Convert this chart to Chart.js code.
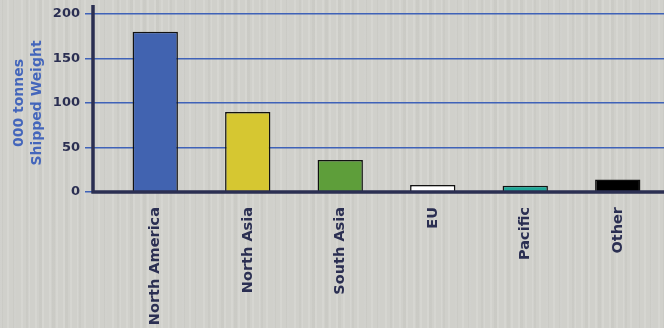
<!DOCTYPE html>
<html>
<head>
<meta charset="utf-8">
<script src="https://cdn.jsdelivr.net/npm/chart.js@4/dist/chart.umd.min.js"></script>
<style>
    body {
        margin: 0;
        background-color: #d0d0cb;
        background-image:
            repeating-linear-gradient(90deg, rgba(255,255,255,0.12) 0px, rgba(255,255,255,0.12) 2px, rgba(0,0,0,0) 2px, rgba(0,0,0,0) 7px),
            repeating-linear-gradient(90deg, rgba(120,120,110,0.06) 0px, rgba(120,120,110,0.06) 3px, rgba(0,0,0,0) 3px, rgba(0,0,0,0) 13px);
    }
    .wrap {
        width: 664px;
        height: 328px;
        position: relative;
    }
</style>
</head>
<body>
<div class="wrap"><canvas id="weightChart"></canvas></div>
<script>
const regions = ['North America', 'North Asia', 'South Asia', 'EU', 'Pacific', 'Other'];
const shippedWeight = [180, 90, 36, 8, 7, 14];
const barColors = ['#4163b0', '#d6c731', '#5e9e3a', '#ffffff', '#1ea898', '#000000'];
const yTicks = [0, 50, 100, 150, 200];
const yTitle = ['000 tonnes', 'Shipped Weight'];

const navy = '#2b2f52';
const gridBlue = '#3f62b8';

// the axis lines sit a little left of the first bar slot, so draw them by hand
const axisLines = {
    id: 'axisLines',
    afterDatasetsDraw(chart) {
        const { ctx, chartArea } = chart;
        const x0 = chartArea.left - 16;
        ctx.save();
        ctx.strokeStyle = navy;
        ctx.lineWidth = 3.5;
        ctx.beginPath();
        ctx.moveTo(x0, chartArea.top - 9);
        ctx.lineTo(x0, chartArea.bottom + 1.5);
        ctx.moveTo(x0 - 1.5, chartArea.bottom);
        ctx.lineTo(chart.width, chartArea.bottom);
        ctx.stroke();
        ctx.restore();
    }
};

Chart.defaults.font.family = '"DejaVu Sans", sans-serif';
Chart.defaults.font.weight = 'bold';

new Chart(document.getElementById('weightChart'), {
    type: 'bar',
    data: {
        labels: regions,
        datasets: [{
            data: shippedWeight,
            backgroundColor: barColors,
            borderColor: '#111111',
            borderWidth: 1.5,
            categoryPercentage: 1,
            barPercentage: 0.49
        }]
    },
    options: {
        responsive: true,
        maintainAspectRatio: false,
        animation: false,
        layout: { padding: { top: 14, left: 0, right: 0, bottom: 0 } },
        plugins: {
            legend: { display: false },
            tooltip: { enabled: false }
        },
        scales: {
            x: {
                grid: { display: false },
                border: { display: false },
                afterFit(scale) { scale.height = 136; },
                ticks: {
                    color: navy,
                    font: { size: 14.5, weight: 'bold' },
                    minRotation: 90,
                    maxRotation: 90,
                    padding: 7
                }
            },
            y: {
                min: 0,
                max: 200,
                afterFit(scale) { scale.width = 109; },
                afterBuildTicks(scale) {
                    scale.ticks = yTicks.map(v => ({ value: v }));
                },
                border: { display: false },
                grid: {
                    color: gridBlue,
                    lineWidth: 1.5,
                    tickColor: gridBlue,
                    tickLength: 24
                },
                ticks: {
                    color: navy,
                    font: { size: 13, weight: 'bold' },
                    padding: 5
                },
                title: {
                    display: true,
                    text: yTitle,
                    color: '#4466bb',
                    font: { size: 14, weight: 'bold', lineHeight: 1.3 },
                    padding: { top: 10, bottom: 0 }
                }
            }
        }
    },
    plugins: [axisLines]
});
</script>
</body>
</html>
